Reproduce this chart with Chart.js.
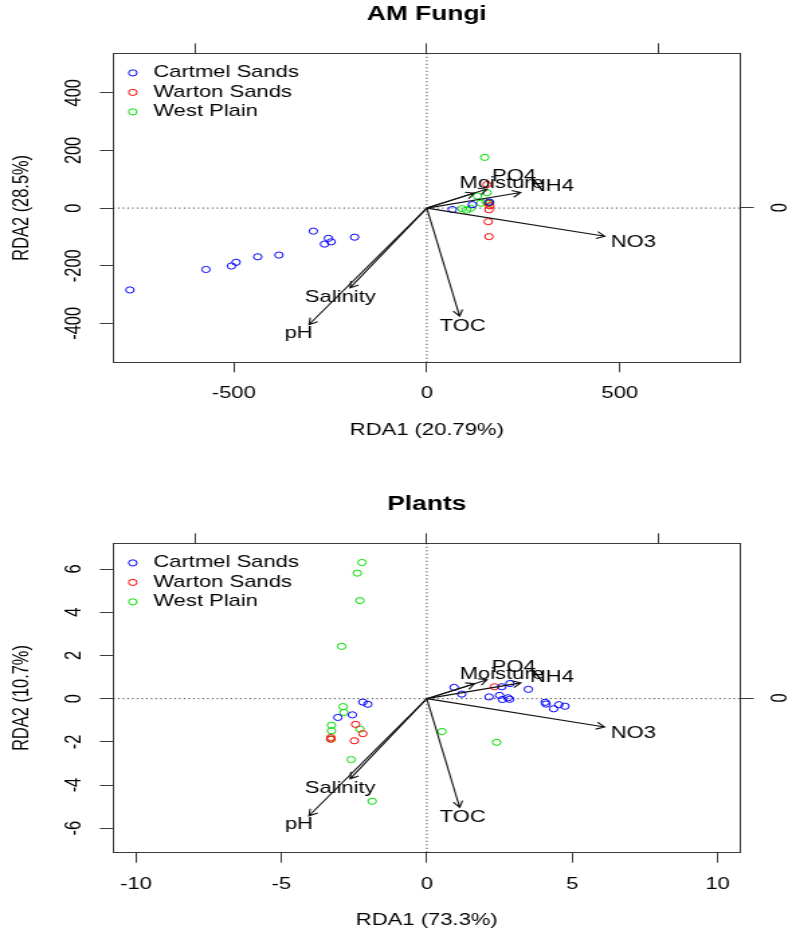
<!DOCTYPE html>
<html>
<head>
<meta charset="utf-8">
<script src="https://cdn.jsdelivr.net/npm/chart.js@4.4.1/dist/chart.umd.min.js"></script>
<style>
  html, body { margin: 0; padding: 0; background: #fff; overflow: hidden; }
  /* the reference is an R plot stretched sideways, so draw narrow and stretch */
  .panel { position: absolute; left: 0; width: 590px; transform: scaleX(1.3424); transform-origin: 0 0; }
  #fungiPanel { top: 0; height: 470px; }
  #plantPanel { top: 470px; height: 471px; }
</style>
</head>
<body>
<div class="panel" id="fungiPanel"><canvas id="fungi"></canvas></div>
<div class="panel" id="plantPanel"><canvas id="plants"></canvas></div>
<script>
const siteNames = ['Cartmel Sands', 'Warton Sands', 'West Plain'];
const siteColours = ['#0000ff', '#ff0000', '#00dd00'];
const envVars = ['NO3', 'NH4', 'PO4', 'Moisture', 'Salinity', 'pH', 'TOC'];

// AM Fungi site scores [RDA1, RDA2]
const fungiCartmel = [[-769, -284], [-572, -213], [-506, -201], [-494, -188], [-438, -169], [-383, -163],
  [-294, -80], [-255, -105], [-265, -125], [-248, -117], [-187, -101], [66, -5], [118, 12], [162, 21]];
const fungiWarton = [[156, 82], [160, 18], [161, -6], [159, -47], [161, -99], [163, 8]];
const fungiWestPlain = [[150, 176], [156, 53], [131, 42], [91, -2], [103, -7], [113, -1],
  [140, 17], [153, 22], [159, 16], [163, 18]];
const fungiArrowX = [461, 243, 156, 123, -199, -305, 85];
const fungiArrowY = [-98, 54, 66, 52, -277, -404, -375];
const fungiLabelX = [535, 324, 226, 194, -224, -332, 93];
const fungiLabelY = [-119, 75, 109, 84, -311, -435, -410];
const fungiXTicks = [-500, 0, 500];
const fungiYTicks = [-400, -200, 0, 200, 400];

// Plants site scores [RDA1, RDA2]
const plantCartmel = [[-2.20, -0.16], [-2.03, -0.26], [-2.56, -0.75], [-3.06, -0.87],
  [0.94, 0.52], [1.20, 0.21], [2.14, 0.08], [2.50, 0.15], [2.60, -0.04], [2.79, 0.04], [2.86, 0.70],
  [2.58, 0.55], [3.49, 0.43], [4.07, -0.17], [4.10, -0.25], [4.36, -0.47], [4.54, -0.28], [4.75, -0.35], [2.85, -0.03]];
const plantWarton = [[2.33, 0.55], [-2.45, -1.19], [-2.20, -1.62], [-2.49, -1.95], [-3.30, -1.80], [-3.30, -1.88]];
const plantWestPlain = [[-2.23, 6.30], [-2.39, 5.81], [-2.30, 4.54], [-2.93, 2.42], [-2.88, -0.37], [-2.85, -0.64],
  [-3.28, -1.23], [-3.28, -1.49], [-3.30, -1.86], [-2.30, -1.41], [-2.60, -2.82], [-1.88, -4.75], [0.52, -1.52], [2.40, -2.02]];
const plantArrowX = [6.11, 3.23, 2.07, 1.64, -2.64, -4.05, 1.13];
const plantArrowY = [-1.31, 0.73, 0.88, 0.69, -3.71, -5.42, -5.03];
const plantLabelX = [7.10, 4.30, 2.99, 2.58, -2.98, -4.40, 1.23];
const plantLabelY = [-1.59, 1.00, 1.45, 1.13, -4.18, -5.83, -5.50];
const plantXTicks = [-10, -5, 0, 5, 10];
const plantYTicks = [-6, -4, -2, 0, 2, 4, 6];

// unlabelled arrow-scale axes on top and right
const topTicks = [-1, 0, 1];
const rightTicks = [0];

const FONT = '"Liberation Sans", Arial, Helvetica, sans-serif';
const INK = '#3a3a3a';

function drawArrow(ctx, xa, ya, xb, yb) {
  const ang = Math.atan2(yb - ya, xb - xa);
  const h = 7, spread = Math.PI / 6;
  ctx.beginPath();
  ctx.moveTo(xa, ya);
  ctx.lineTo(xb, yb);
  ctx.moveTo(xb - h * Math.cos(ang - spread), yb - h * Math.sin(ang - spread));
  ctx.lineTo(xb, yb);
  ctx.lineTo(xb - h * Math.cos(ang + spread), yb - h * Math.sin(ang + spread));
  ctx.stroke();
}

function rdaPlugin(spec) {
  return {
    id: 'rda',
    beforeDatasetsDraw(chart) {
      const { ctx, chartArea: a, scales: { x, y } } = chart;
      const x0 = x.getPixelForValue(0);
      const y0 = y.getPixelForValue(0);
      ctx.save();
      ctx.strokeStyle = '#222';
      ctx.lineWidth = 1;
      ctx.setLineDash([1, 2.5]);
      ctx.beginPath();
      ctx.moveTo(a.left, y0);
      ctx.lineTo(a.right, y0);
      ctx.moveTo(x0, a.top);
      ctx.lineTo(x0, a.bottom);
      ctx.stroke();
      ctx.restore();
    },
    afterDatasetsDraw(chart) {
      const { ctx, chartArea: a, scales: { x, y } } = chart;
      const x0 = x.getPixelForValue(0);
      const y0 = y.getPixelForValue(0);
      ctx.save();

      // biplot arrows
      ctx.strokeStyle = '#111';
      ctx.lineWidth = 1.1;
      spec.arrowX.forEach((v, i) => {
        drawArrow(ctx, x0, y0, x.getPixelForValue(v), y.getPixelForValue(spec.arrowY[i]));
      });
      ctx.fillStyle = '#000';
      ctx.font = `16.4px ${FONT}`;
      ctx.textAlign = 'center';
      ctx.textBaseline = 'middle';
      envVars.forEach((name, i) => {
        ctx.fillText(name, x.getPixelForValue(spec.labelX[i]), y.getPixelForValue(spec.labelY[i]));
      });

      // legend, no box
      ctx.lineWidth = 1;
      siteNames.forEach((name, i) => {
        const ly = a.top + 19.6 + i * 19.5;
        ctx.beginPath();
        ctx.strokeStyle = siteColours[i];
        ctx.arc(a.left + 14.5, ly, 3.1, 0, Math.PI * 2);
        ctx.stroke();
        ctx.textAlign = 'left';
        ctx.fillText(name, a.left + 29.8, ly);
      });

      // title and axis texts
      ctx.textAlign = 'center';
      ctx.font = `bold 19.6px ${FONT}`;
      ctx.fillText(spec.title, (a.left + a.right) / 2, a.top - 38.5);
      ctx.font = `16.4px ${FONT}`;
      spec.xTicks.forEach(v => ctx.fillText(String(v), x.getPixelForValue(v), a.bottom + 31.3));
      ctx.fillText(spec.xTitle, (a.left + a.right) / 2, a.bottom + 68);

      const vertical = (text, px, py) => {
        ctx.save();
        ctx.translate(px, py);
        ctx.rotate(-Math.PI / 2);
        ctx.fillText(text, 0, 0);
        ctx.restore();
      };
      spec.yTicks.forEach(v => vertical(String(v), a.left - 28.5, y.getPixelForValue(v)));
      vertical(spec.yTitle, 16.4, (a.top + a.bottom) / 2);
      rightTicks.forEach(v => vertical(String(v), a.right + 29.5, chart.scales.y2.getPixelForValue(v)));
      ctx.restore();
    }
  };
}

function axis(position, min, max, ticks, size) {
  return {
    type: 'linear',
    position,
    min,
    max,
    afterBuildTicks: s => { s.ticks = ticks.map(v => ({ value: v })); },
    afterFit: s => {
      if (s.isHorizontal()) s.height = size;
      else s.width = size;
    },
    ticks: { display: false },
    grid: { drawOnChartArea: false, drawTicks: true, tickLength: 10, color: INK, lineWidth: 1 },
    border: { display: true, color: INK, width: 1 },
  };
}

function siteDatasets(groups) {
  return groups.map((pts, i) => ({
    label: siteNames[i],
    data: pts.map(p => ({ x: p[0], y: p[1] })),
    showLine: false,
    pointStyle: 'circle',
    pointRadius: 3.1,
    pointHoverRadius: 3.1,
    pointBorderWidth: 1,
    pointBorderColor: siteColours[i],
    pointBackgroundColor: 'rgba(0,0,0,0)',
  }));
}

function makeChart(canvasId, spec) {
  return new Chart(document.getElementById(canvasId), {
    type: 'scatter',
    data: { datasets: siteDatasets(spec.groups) },
    options: {
      responsive: true,
      maintainAspectRatio: false,
      animation: false,
      layout: { padding: 0 },
      plugins: { legend: { display: false }, tooltip: { enabled: false } },
      scales: {
        x: axis('bottom', spec.xMin, spec.xMax, spec.xTicks, spec.bottomSpace),
        y: axis('left', spec.yMin, spec.yMax, spec.yTicks, 84.4),
        x2: axis('top', -1.357, 1.357, topTicks, spec.topSpace),
        y2: axis('right', -1, 1, rightTicks, 38.5),
      },
    },
    plugins: [rdaPlugin(spec)],
  });
}

makeChart('fungi', {
  title: 'AM Fungi',
  xTitle: 'RDA1 (20.79%)',
  yTitle: 'RDA2 (28.5%)',
  groups: [fungiCartmel, fungiWarton, fungiWestPlain],
  arrowX: fungiArrowX, arrowY: fungiArrowY,
  labelX: fungiLabelX, labelY: fungiLabelY,
  xTicks: fungiXTicks, yTicks: fungiYTicks,
  xMin: -812, xMax: 812, yMin: -535, yMax: 537,
  topSpace: 53.3, bottomSpace: 107.7,
});

makeChart('plants', {
  title: 'Plants',
  xTitle: 'RDA1 (73.3%)',
  yTitle: 'RDA2 (10.7%)',
  groups: [plantCartmel, plantWarton, plantWestPlain],
  arrowX: plantArrowX, arrowY: plantArrowY,
  labelX: plantLabelX, labelY: plantLabelY,
  xTicks: plantXTicks, yTicks: plantYTicks,
  xMin: -10.78, xMax: 10.78, yMin: -7.13, yMax: 7.19,
  topSpace: 73.3, bottomSpace: 88.3,
});
</script>
</body>
</html>
